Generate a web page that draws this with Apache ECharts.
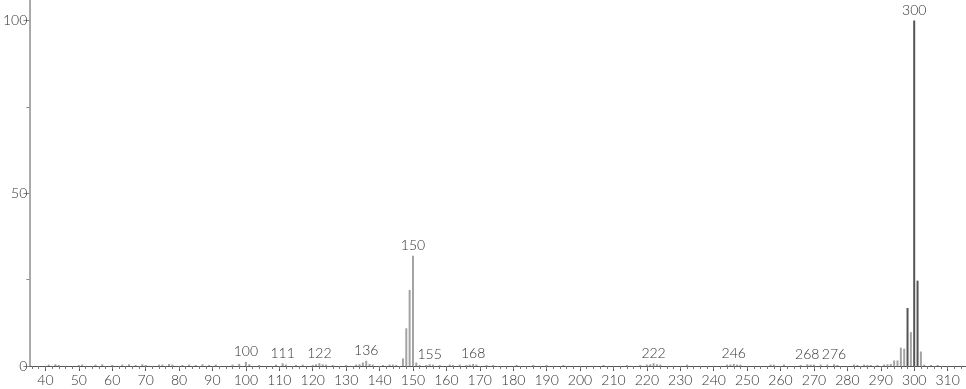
<!DOCTYPE html>
<html><head><meta charset="utf-8">
<script src="https://cdn.jsdelivr.net/npm/echarts@6/dist/echarts.min.js"></script>
<style>html,body{margin:0;padding:0;background:#fff}#c{width:966px;height:389px}</style>
</head><body><div id="c"></div>
<script>
// m/z values and relative intensities
const mz = [41,43,44,50,51,55,57,60,63,65,67,69,70,74,75,77,78,81,83,85,87,89,91,96,98,100,101,104,109,111,112,115,117,120,121,122,123,124,126,130,133,134,135,136,137,138,141,143,144,145,147,148,149,150,151,152,154,155,156,158,161,162,164,166,167,168,169,172,174,181,186,190,195,207,214,218,220,221,222,223,224,232,244,245,246,247,248,257,258,261,266,268,269,270,272,274,276,277,282,283,285,286,287,289,291,292,293,294,295,296,297,298,299,300,301,302,303,305,307];
const intensity = [0.4,0.5,0.3,0.3,0.4,0.4,0.5,0.3,0.4,0.5,0.3,0.5,0.3,0.4,0.4,0.6,0.4,0.3,0.4,0.3,0.5,0.3,0.4,0.4,0.6,1.2,0.5,0.3,0.4,0.8,0.4,0.3,0.4,0.3,0.5,0.8,0.5,0.4,0.3,0.3,0.4,0.5,1.0,1.5,0.6,0.4,0.3,0.4,0.4,0.3,2.2,10.9,22,31.9,1.0,0.3,0.3,0.5,0.4,0.3,0.4,0.3,0.4,0.3,0.4,0.6,0.4,0.3,0.3,0.3,0.3,0.3,0.3,0.3,0.3,0.3,0.4,0.5,0.8,0.5,0.4,0.4,0.4,0.4,0.6,0.4,0.4,0.4,0.4,0.4,0.3,0.5,0.4,0.4,0.4,0.4,0.5,0.3,0.4,0.3,0.4,0.3,0.3,0.3,0.4,0.5,0.6,1.6,1.6,5.3,5.0,16.8,9.8,100,24.7,4.2,0.4,0.3,0.3];
const labeledPeaks = [100,111,122,136,150,155,168,222,246,268,276,300];
const darkPeaks = [298,300,301];
const xTickLabels = [40,50,60,70,80,90,100,110,120,130,140,150,160,170,180,190,200,210,220,230,240,250,260,270,280,290,300,310];
const xMinorTicks = [];
for (let v = 36; v <= 314; v += 2) xMinorTicks.push(v);
const yTickLabels = [0,50,100];
const yAllTicks = [0,25,50,75,100];

const font = 'Lato, "Open Sans", sans-serif';
const data = mz.map((m, i) => ({
  value: [m, intensity[i]],
  itemStyle: { color: darkPeaks.includes(m) ? '#555' : '#a3a3a3' },
  label: { show: labeledPeaks.includes(m) }
}));

const chart = echarts.init(document.getElementById('c'));
chart.setOption({
  animation: false,
  grid: { left: 29, right: 0, top: 0, bottom: 23, containLabel: false },
  xAxis: [{
    type: 'value', min: 35.2, max: 315.5,
    axisLine: { show: true, lineStyle: { color: '#555', width: 1 } },
    axisTick: { show: true, length: 5, customValues: xTickLabels, lineStyle: { color: '#555' } },
    axisLabel: { customValues: xTickLabels, color: '#333', fontSize: 14, fontWeight: 300, fontFamily: font, margin: 7 },
    splitLine: { show: false }
  }, {
    type: 'value', min: 35.2, max: 315.5, position: 'bottom',
    axisLine: { show: false },
    axisTick: { show: true, length: 3, customValues: xMinorTicks, lineStyle: { color: '#777' } },
    axisLabel: { show: false },
    splitLine: { show: false }
  }],
  yAxis: [{
    type: 'value', min: 0, max: 105.9,
    axisLine: { show: true, lineStyle: { color: '#aaa', width: 2 } },
    axisTick: { show: true, length: 6, customValues: yTickLabels, lineStyle: { color: '#888' } },
    axisLabel: { customValues: yTickLabels, color: '#333', fontSize: 14, fontWeight: 300, fontFamily: font, margin: 2 },
    splitLine: { show: false }
  }, {
    type: 'value', min: 0, max: 105.9, position: 'left',
    axisLine: { show: false },
    axisTick: { show: true, length: 3, customValues: yAllTicks, lineStyle: { color: '#888' } },
    axisLabel: { show: false },
    splitLine: { show: false }
  }],
  series: [{
    type: 'bar',
    xAxisIndex: 0, yAxisIndex: 0,
    barWidth: 2,
    data: data,
    label: {
      position: 'top', distance: 3, color: '#333', fontSize: 14, fontWeight: 300, fontFamily: font,
      formatter: p => String(p.value[0])
    }
  }]
});
</script></body></html>
